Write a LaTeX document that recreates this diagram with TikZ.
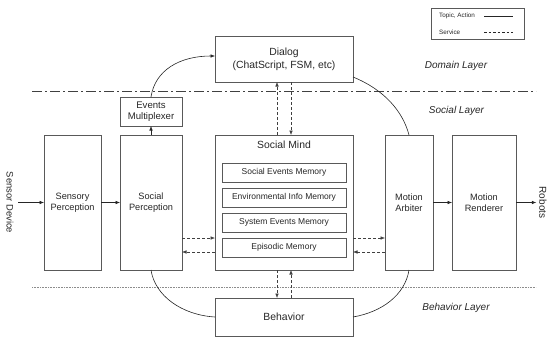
\documentclass[tikz,border=0pt]{standalone}
\usepackage{fontspec}
\setmainfont{Liberation Sans}
\usetikzlibrary{arrows.meta}
\begin{document}
\begin{tikzpicture}[x=1pt,y=-1pt,
  box/.style={draw=black!65, line width=0.6pt, inner sep=0pt, outer sep=0pt, align=center,
    text=black!85, font=\fontsize{9.2}{11.5}\selectfont},
  membox/.style={box, minimum width=124pt, minimum height=19pt, font=\fontsize{8.5}{10}\selectfont},
  arr/.style={-{Latex[length=4.5pt,width=3.6pt]}, line width=0.6pt, draw=black!85},
  svc/.style={arr, draw=black!75, dash pattern=on 3pt off 2pt},
  link/.style={line width=0.6pt, draw=black!85},
  layer/.style={font=\fontsize{10}{12}\selectfont\itshape, text=black!85},
  side/.style={rotate=-90, inner sep=3pt, outer sep=0pt, text=black!85},
  legtext/.style={font=\fontsize{6.3}{7}\selectfont, text=black!85, anchor=west, inner sep=0pt}
]
\useasboundingbox (0,0) rectangle (548,337);

% layer separators
\coordinate (dl1) at (32,91);
\coordinate (dl2) at (536,91);
\coordinate (bl1) at (32,287);
\coordinate (bl2) at (536,287);
\draw[black!75, line width=0.6pt, dash pattern=on 10pt off 3pt on 2pt off 3pt] (dl1) -- (dl2);
\draw[black!45, line width=0.6pt, dash pattern=on 0.8pt off 0.8pt] (bl1) -- (bl2);

% layer labels
\node[layer] (domainl) at (456,66) {Domain Layer};
\node[layer] (sociall) at (456.5,111) {Social Layer};
\node[layer] (behl) at (456,308) {Behavior Layer};

% legend
\node[draw=black!65, line width=0.6pt, minimum width=93pt, minimum height=31pt, inner sep=0pt] (legend) at (477.5,23.5) {};
\node[legtext] (lt1) at (439,16) {Topic, Action};
\node[legtext] (lt2) at (439,32) {Service};
\coordinate (la1) at (484,16);
\coordinate (la2) at (513,16);
\coordinate (lb1) at (484,32);
\coordinate (lb2) at (513,32);
\draw[link] (la1) -- (la2);
\draw[link, dash pattern=on 2.5pt off 2pt] (lb1) -- (lb2);

% boxes
\node[box, minimum width=138pt, minimum height=46pt, font=\fontsize{10.4}{13}\selectfont] (dialog) at (284,59) {Dialog\\(ChatScript, FSM, etc)};
\node[box, minimum width=62pt, minimum height=29pt, font=\fontsize{9.6}{11.5}\selectfont] (em) at (151,111.5) {Events\\Multiplexer};
\node[box, minimum width=57pt, minimum height=135pt] (sensp) at (72.5,202.5) {Sensory\\Perception};
\node[box, minimum width=62pt, minimum height=135pt] (sp) at (151,202.5) {Social\\Perception};
\node[box, minimum width=138pt, minimum height=135pt] (sm) at (284,202.5) {};
\node[text=black!85, font=\fontsize{10.4}{12}\selectfont, inner sep=0pt] (smlabel) at (284,145) {Social Mind};
\node[membox] (m1) at (284,172.5) {Social Events Memory};
\node[membox] (m2) at (284,197.5) {Environmental Info Memory};
\node[membox] (m3) at (284,222.5) {System Events Memory};
\node[membox] (m4) at (284,247.5) {Episodic Memory};
\node[box, minimum width=48pt, minimum height=135pt] (ma) at (409,202.5) {Motion\\Arbiter};
\node[box, minimum width=64pt, minimum height=135pt] (mr) at (484,202.5) {Motion\\Renderer};
\node[box, minimum width=138pt, minimum height=38pt, font=\fontsize{10.4}{12}\selectfont] (beh) at (284,317) {Behavior};

% side labels
\node[side, font=\fontsize{9.4}{11}\selectfont] (sensor) at (10,202.5) {Sensor Device};
\node[side, font=\fontsize{10}{12}\selectfont] (robots) at (543,202.5) {Robots};

% solid arrows
\draw[arr, shorten <=2pt] (sensor.north) -- (sensp.west);
\draw[arr] (sensp.east) -- (sp.west);
\draw[arr] (sp.north) -- (em.south);
\draw[arr] (ma.east) -- (mr.west);
\draw[arr] (mr.east) -- (robots.south);
\draw[arr] (em.north) .. controls (155,70) and (180,56) .. ([yshift=3pt]dialog.west);

% topic links without heads
\draw[link] ([yshift=5pt]dialog.south east) .. controls (385,90) and (403,112) .. (ma.north);
\draw[link] (sp.south) .. controls (155,296) and (182,315) .. (beh.west);
\draw[link] (ma.south) .. controls (405,295) and (382,312) .. (beh.east);

% service arrows
\coordinate (xa) at (277,0);
\coordinate (xb) at (291,0);
\coordinate (ya) at (0,238);
\coordinate (yb) at (0,252);
\draw[svc] (sm.north -| xa) -- (dialog.south -| xa);
\draw[svc] (dialog.south -| xb) -- (sm.north -| xb);
\draw[svc] (sm.south -| xa) -- (beh.north -| xa);
\draw[svc] (beh.north -| xb) -- (sm.south -| xb);
\draw[svc] (sp.east |- ya) -- (sm.west |- ya);
\draw[svc] (sm.west |- yb) -- (sp.east |- yb);
\draw[svc] (sm.east |- ya) -- (ma.west |- ya);
\draw[svc] (ma.west |- yb) -- (sm.east |- yb);
\end{tikzpicture}
\end{document}
